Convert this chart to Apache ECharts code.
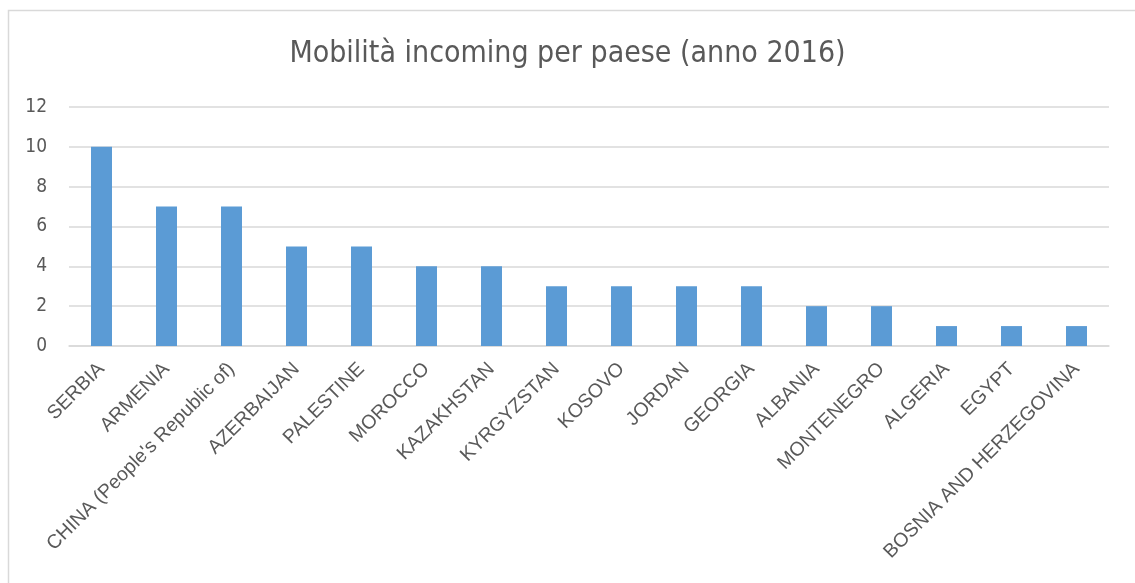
<!DOCTYPE html>
<html>
<head>
<meta charset="utf-8">
<script src="https://cdn.jsdelivr.net/npm/echarts@6/dist/echarts.min.js"></script>
<style>
html,body{margin:0;padding:0;background:#fff;}
#chart{width:1135px;height:583px;}
</style>
</head>
<body>
<div id="chart"></div>
<script>
const titleText = "Mobilità incoming per paese (anno 2016)";
const categories = ["SERBIA","ARMENIA","CHINA (People's Republic of)","AZERBAIJAN","PALESTINE","MOROCCO","KAZAKHSTAN","KYRGYZSTAN","KOSOVO","JORDAN","GEORGIA","ALBANIA","MONTENEGRO","ALGERIA","EGYPT","BOSNIA AND HERZEGOVINA"];
const values = [10,7,7,5,5,4,4,3,3,3,3,2,2,1,1,1];
const yMin = 0, yMax = 12, yStep = 2;

const narrow = "'Liberation Sans Narrow','Arial Narrow','DejaVu Sans Condensed',sans-serif";
const chart = echarts.init(document.getElementById('chart'), null, {renderer:'canvas'});
chart.setOption({
  animation:false,
  backgroundColor:'#ffffff',
  graphic:[{
    type:'rect', silent:true, z:-10,
    shape:{x:8.5,y:10.5,width:1140,height:620},
    style:{fill:'none',stroke:'#d9d9d9',lineWidth:1.5}
  }],
  title:{
    text:titleText, left:'center', top:34,
    textStyle:{fontFamily:narrow,fontSize:30,fontWeight:'normal',color:'#595959'}
  },
  grid:{left:69,right:26,top:107,bottom:237,containLabel:false},
  xAxis:{
    type:'category', data:categories,
    axisLine:{show:true,lineStyle:{color:'#d9d9d9',width:1.5}},
    axisTick:{show:false},
    axisLabel:{rotate:45,interval:0,margin:20,fontFamily:"'Liberation Sans',Arial,sans-serif",fontSize:19.5,color:'#595959'}
  },
  yAxis:{
    type:'value', min:yMin, max:yMax, interval:yStep,
    axisLine:{show:false}, axisTick:{show:false},
    splitLine:{lineStyle:{color:'#d9d9d9',width:1.5}},
    axisLabel:{fontFamily:narrow,fontSize:19,color:'#595959',margin:22}
  },
  series:[{
    type:'bar', data:values, barWidth:21,
    itemStyle:{color:'#5b9bd5'}
  }]
});
</script>
</body>
</html>
